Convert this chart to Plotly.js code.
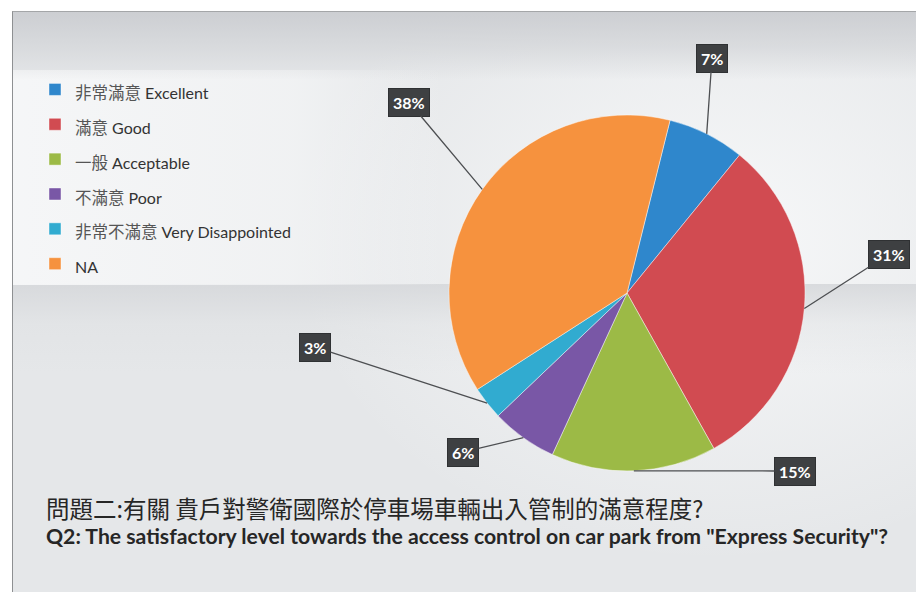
<!DOCTYPE html>
<html>
<head>
<meta charset="utf-8">
<script src="https://cdn.plot.ly/plotly-3.0.1.min.js"></script>
<style>
  html, body { margin: 0; padding: 0; background: #ffffff; }
  #wrap { position: relative; width: 916px; height: 592px; overflow: hidden; }
  /* slide backdrop behind the chart */
  #slide {
    position: absolute; left: 12px; top: 11px; width: 910px; height: 590px;
    border-left: 1px solid #8e9092; border-top: 1px solid #a4a6a8;
    background:
      linear-gradient(to bottom, rgba(203,205,209,0.95) 0px, rgba(212,214,217,0.75) 35px, rgba(226,228,230,0) 68px),
      linear-gradient(to right, rgba(246,247,248,0.95) 0px, rgba(245,246,247,0.7) 280px, rgba(245,246,247,0) 430px) 0 58px / 560px 215px no-repeat,
      linear-gradient(to bottom, rgba(214,216,219,0.9) 0px, rgba(222,224,226,0.4) 40px, rgba(226,228,230,0) 90px) 0 272px / 100% 200px no-repeat,
      radial-gradient(ellipse 420px 320px at 700px 230px, rgba(248,249,250,0.95), rgba(248,249,250,0) 100%),
      #e5e7e9;
  }
  #chart { position: absolute; left: 0; top: 0; width: 916px; height: 592px; }
</style>
</head>
<body>
<div id="wrap">
  <div id="slide"></div>
  <div id="chart"></div>
</div>
<script>
// Survey answers (percent of respondents)
const labelsZh = ['非常滿意', '滿意', '一般', '不滿意', '非常不滿意', ''];
const labelsEn = ['Excellent', 'Good', 'Acceptable', 'Poor', 'Very Disappointed', 'NA'];
const values = [7, 31, 15, 6, 3, 38];
const colors = ['#2f87cc', '#d14b51', '#9cba46', '#7957a6', '#31abd0', '#f6923e'];

const W = 916, H = 592;
// pie geometry in pixels
const cx = 627, cy = 293, R = 178;
const rotation = 14;

// where each percentage box sits (pixel centres)
const boxCentres = [[712, 58], [889, 254], [795, 471], [463, 452], [315, 347], [409, 102]];

const legendNames = labelsZh.map((zh, i) => {
  const en = '<span style="font-family:Lato;font-size:16px;color:#333333;">' + (zh ? ' ' : '') + labelsEn[i] + '</span>';
  return zh
    ? '<span style="font-family:\'Noto Sans CJK TC\';font-size:16.5px;color:#555555;">' + zh + '</span>' + en
    : en;
});

const pie = {
  type: 'pie',
  labels: legendNames,
  values: values,
  sort: false,
  direction: 'clockwise',
  rotation: rotation,
  textinfo: 'none',
  hoverinfo: 'label+percent',
  marker: { colors: colors, line: { color: 'rgba(255,255,255,0.55)', width: 0.8 } },
  domain: { x: [(cx - R) / W, (cx + R) / W], y: [1 - (cy + R) / H, 1 - (cy - R) / H] }
};

// leader lines + value boxes
const total = values.reduce((a, b) => a + b, 0);
const annotations = [];
let cum = 0;
values.forEach((v, i) => {
  const mid = (cum + v / 2) / total;
  cum += v;
  const ang = (rotation + 360 * mid) * Math.PI / 180;
  const px = cx + R * Math.sin(ang);
  const py = cy - R * Math.cos(ang);
  const [bx, by] = boxCentres[i];
  annotations.push({
    xref: 'paper', yref: 'paper', x: px / W, y: 1 - py / H,
    ax: bx - px, ay: by - py, axref: 'pixel', ayref: 'pixel',
    text: '<b>' + v + '%</b>', showarrow: true, arrowhead: 0, arrowwidth: 1.3, arrowcolor: '#4d4f52',
    standoff: 0, bgcolor: '#3e4042', bordercolor: '#2f3133', borderwidth: 1, borderpad: 4,
    font: { family: 'Lato', size: 16, color: '#ffffff' }
  });
});

const layout = {
  width: W, height: H,
  margin: { l: 0, r: 0, t: 0, b: 0 },
  paper_bgcolor: 'rgba(0,0,0,0)',
  plot_bgcolor: 'rgba(0,0,0,0)',
  showlegend: true,
  legend: {
    x: 35 / W, xanchor: 'left', y: 1 - 67 / H, yanchor: 'top',
    bgcolor: 'rgba(0,0,0,0)', borderwidth: 0,
    font: { family: 'Lato', size: 24.5, color: '#3a3a3a' }
  },
  title: {
    text: '<span style="font-family:\'Noto Sans CJK TC\';font-size:23.5px;">問題二:有關 貴戶對警衛國際於停車場車輛出入管制的滿意程度?</span><br>' +
          '<span style="font-family:Lato;font-size:21.2px;"><b>Q2: The satisfactory level towards the access control on car park from "Express Security"?</b></span>',
    x: 46 / W, xanchor: 'left', xref: 'paper',
    y: 1 - 518 / H, yanchor: 'middle', yref: 'paper',
    font: { family: 'Lato', size: 20, color: '#262626' }
  },
  annotations: annotations
};

Plotly.newPlot('chart', [pie], layout, { displayModeBar: false, staticPlot: true });
</script>
</body>
</html>
